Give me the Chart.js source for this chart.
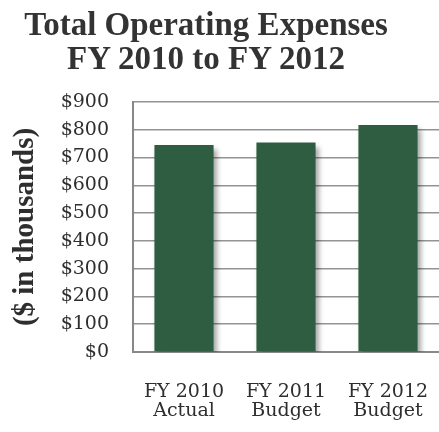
<!DOCTYPE html>
<html>
<head>
<meta charset="utf-8">
<script src="https://cdn.jsdelivr.net/npm/chart.js@4.4.1/dist/chart.umd.min.js"></script>
<style>
  html, body { margin: 0; padding: 0; background: #fff; }
  #wrap { position: relative; width: 439px; height: 432px; overflow: hidden; }
  #title {
    position: absolute; left: 0; top: 7px; width: 412px;
    text-align: center; color: #333;
    font: bold 33px "Liberation Serif", serif; line-height: 34px;
  }
  canvas { position: absolute; left: 0; top: 0; }
</style>
</head>
<body>
<div id="wrap">
  <canvas id="expenseChart" width="439" height="432"></canvas>
  <div id="title">Total Operating Expenses<br>FY 2010 to FY 2012</div>
</div>
<script>
// Total operating expenses, in thousands of dollars
const yearLabels = [['FY 2010', 'Actual'], ['FY 2011', 'Budget'], ['FY 2012', 'Budget']];
const expenseValues = [745, 754, 817];
const axisMax = 900;
const axisStep = 100;

const barGreen = '#2f5d41';
const textColor = '#2e2e2e';
const gridColor = '#939393';
const tickFont = { family: '"DejaVu Serif", serif', size: 19 };

// soft drop shadow under the bars
const barShadow = {
  id: 'barShadow',
  beforeDatasetDraw(chart) {
    const ctx = chart.ctx;
    ctx.save();
    ctx.shadowColor = 'rgba(0, 0, 0, 0.35)';
    ctx.shadowBlur = 5;
    ctx.shadowOffsetX = 3;
    ctx.shadowOffsetY = 4;
  },
  afterDatasetDraw(chart) {
    chart.ctx.restore();
  }
};

new Chart(document.getElementById('expenseChart'), {
  type: 'bar',
  data: {
    labels: yearLabels,
    datasets: [{
      label: 'Total Operating Expenses',
      data: expenseValues,
      backgroundColor: barGreen,
      borderWidth: 0,
      categoryPercentage: 1,
      barPercentage: 0.58
    }]
  },
  plugins: [barShadow],
  options: {
    responsive: false,
    devicePixelRatio: 1,
    animation: false,
    layout: { padding: { top: 102, right: 0, bottom: 0, left: 0 } },
    plugins: {
      legend: { display: false },
      tooltip: { enabled: false }
    },
    scales: {
      x: {
        grid: { display: false, drawTicks: false },
        border: { display: true, color: '#888888', width: 2 },
        ticks: { color: textColor, font: { ...tickFont, lineHeight: 1.0 }, padding: 31 },
        afterFit(scale) {
          scale.height = 80;
          scale.paddingLeft = 0;
          scale.paddingRight = 0;
        }
      },
      y: {
        min: 0,
        max: axisMax,
        grid: { color: gridColor, lineWidth: 1.5, drawTicks: false },
        border: { display: true, color: '#888888', width: 2 },
        ticks: {
          stepSize: axisStep,
          color: textColor,
          font: tickFont,
          padding: 24,
          callback: value => '$' + value
        },
        title: {
          display: true,
          text: '($ in thousands)',
          color: textColor,
          font: { family: '"Liberation Serif", serif', size: 29, weight: 'bold' },
          padding: { top: 8, bottom: 0 }
        },
        afterFit(scale) { scale.width = 133; }
      }
    }
  }
});
</script>
</body>
</html>
